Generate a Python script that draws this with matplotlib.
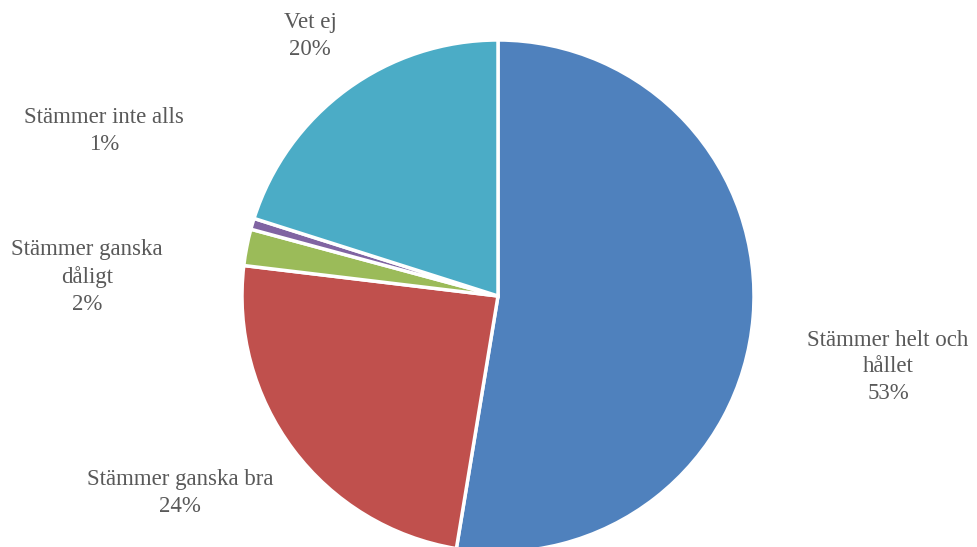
import matplotlib
matplotlib.use('Agg')
import matplotlib.pyplot as plt

# data (share of answers, %)
categories = ['Stämmer helt och\nhållet', 'Stämmer ganska bra', 'Stämmer ganska\ndåligt',
              'Stämmer inte alls', 'Vet ej']
values = [52.6, 24.3, 2.3, 0.7, 20.1]
colors = ['#4F81BD', '#C0504D', '#9BBB59', '#8064A2', '#4BACC6']

# label centres in pixels (x, y from top)
label_pos = [(888, 367), (180, 493), (87, 277), (104, 131), (310, 36)]

W, H = 978, 547
cx, cy, r = 498, 296, 256

fig = plt.figure(figsize=(W / 100, H / 100), dpi=100)
ax = fig.add_axes([0, 0, 1, 1])
ax.pie(values, colors=colors, startangle=90, counterclock=False,
       wedgeprops=dict(edgecolor='white', linewidth=2.5))
ax.set_xlim(-cx / r, (W - cx) / r)
ax.set_ylim(-(H - cy) / r, cy / r)
ax.set_aspect('equal')
ax.axis('off')

total = sum(values)
for cat, v, (px, py) in zip(categories, values, label_pos):
    txt = cat + '\n' + '%d%%' % round(v / total * 100)
    ax.text((px - cx) / r, (cy - py) / r, txt, ha='center', va='center',
            fontsize=16.5, family='Liberation Serif', color='#595959', linespacing=1.35)

fig.savefig('out.png', dpi=100)
